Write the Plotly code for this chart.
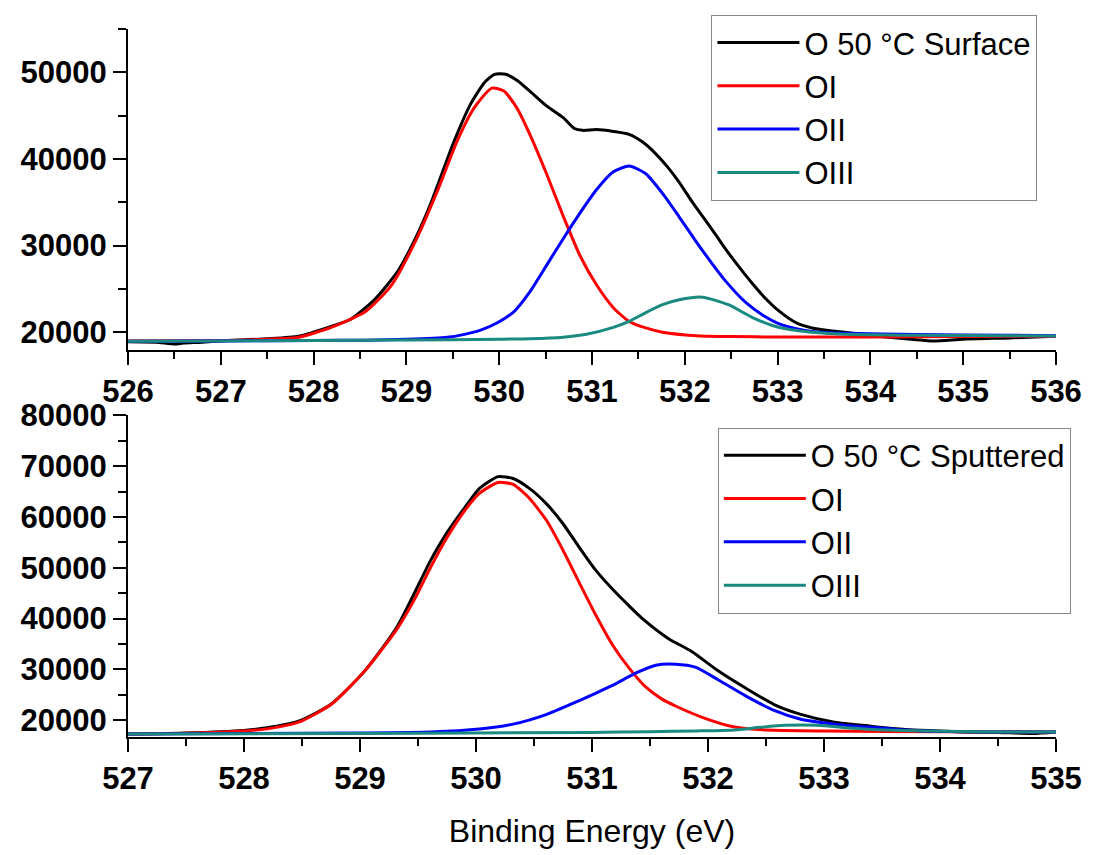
import plotly.graph_objects as go
from plotly.subplots import make_subplots

# ---------------- Top panel: O 50 °C Surface ----------------
top_black_x = [526.0, 526.3, 526.5, 526.6, 526.8, 527.0, 527.5, 527.84, 528.19, 528.4, 528.66,
               528.91, 529.1, 529.26, 529.4, 529.52, 529.69, 529.84, 529.95, 530.07, 530.19,
               530.33, 530.51, 530.69, 530.81, 530.9, 531.05, 531.23, 531.4, 531.55, 531.69,
               531.82, 531.94, 532.07, 532.19, 532.33, 532.44, 532.58, 532.73, 532.87, 533.01,
               533.2, 533.37, 533.55, 533.72, 534.08, 534.44, 534.68, 535.0, 535.5, 536.0]
top_black_y = [18900, 18850, 18650, 18750, 18850, 19000, 19250, 19550, 20680, 21500, 23800,
               27100, 30900, 34800, 38800, 42200, 46300, 48800, 49770, 49770, 49090,
               47830, 46130, 44770, 43520, 43300, 43400, 43180, 42840, 41920, 40560,
               39000, 37300, 35200, 33400, 31300, 29600, 27600, 25600, 23900, 22500,
               21100, 20500, 20200, 20000, 19550, 19200, 18980, 19200, 19350, 19550]

top_oi_x = [526.0, 527.0, 527.5, 527.84, 528.19, 528.56, 528.84, 529.09, 529.34, 529.55, 529.73,
            529.92, 530.05, 530.19, 530.33, 530.51, 530.69, 530.87, 531.05, 531.23, 531.4,
            531.58, 531.76, 532.12, 532.5, 533.0, 534.0, 535.0, 536.0]
top_oi_y = [19000, 19050, 19200, 19430, 20570, 22390, 25450, 30340, 36470, 42150, 45900,
            48180, 47830, 45900, 42840, 38290, 33400, 28860, 25450, 22840, 21250,
            20500, 20000, 19600, 19500, 19450, 19450, 19500, 19550]

top_oii_x = [526.0, 527.0, 528.0, 528.56, 529.0, 529.44, 529.6, 529.8, 529.98, 530.16, 530.33,
             530.51, 530.69, 530.87, 531.05, 531.23, 531.4, 531.58, 531.76, 531.94, 532.12,
             532.33, 532.44, 532.65, 532.85, 533.01, 533.2, 533.37, 533.72, 534.5, 535.5, 536.0]
top_oii_y = [18950, 19000, 19050, 19090, 19200, 19430, 19700, 20250, 21100, 22390, 24660,
             27720, 30800, 33750, 36470, 38520, 39200, 38290, 36020, 33300, 30500,
             27400, 25900, 23500, 21900, 21000, 20400, 20100, 19890, 19750, 19650, 19600]

top_oiii_x = [526.0, 527.0, 528.0, 529.0, 530.0, 530.33, 530.69, 530.94, 531.23, 531.4, 531.58,
              531.76, 531.94, 532.19, 532.47, 532.73, 533.01, 533.37, 533.72, 534.5, 535.5, 536.0]
top_oiii_y = [18950, 19000, 19050, 19100, 19200, 19250, 19430, 19770, 20570, 21250, 22270,
              23180, 23750, 24050, 23180, 21700, 20570, 20000, 19770, 19650, 19600, 19580]

# ---------------- Bottom panel: O 50 °C Sputtered ----------------
bot_black_x = [527.0, 527.5, 528.0, 528.2, 528.47, 528.75, 529.04, 529.32, 529.61, 529.75, 529.9,
               530.03, 530.19, 530.32, 530.46, 530.61, 530.75, 530.89, 531.03, 531.18, 531.32,
               531.44, 531.66, 531.86, 532.09, 532.32, 532.57, 532.8, 533.09, 533.4, 533.7,
               534.0, 534.17, 534.5, 534.8, 535.0]
bot_black_y = [17300, 17500, 18000, 18500, 19800, 23150, 29670, 38400, 51520, 56940, 61770,
               65640, 67960, 67580, 65640, 62540, 58680, 54040, 49590, 45720, 42500,
               39900, 36050, 33540, 29670, 26380, 23090, 21160, 19610, 18840, 18200,
               17900, 17680, 17600, 17400, 17700]

bot_oi_x = [527.0, 527.5, 528.0, 528.2, 528.47, 528.75, 529.04, 529.32, 529.47, 529.61, 529.75,
            529.9, 530.03, 530.19, 530.32, 530.46, 530.61, 530.75, 530.89, 531.03, 531.18,
            531.32, 531.46, 531.6, 531.72, 531.95, 532.23, 532.51, 533.0, 534.0, 535.0]
bot_oi_y = [17300, 17450, 17900, 18300, 19610, 23090, 29670, 37990, 43790, 50170, 55970,
            61190, 64670, 66800, 66410, 63700, 59260, 53460, 47080, 40800, 34700,
            30250, 26600, 24200, 22800, 20580, 18650, 18070, 17880, 17750, 17700]

bot_oii_x = [527.0, 528.0, 529.0, 529.61, 530.03, 530.32, 530.61, 530.89, 531.03, 531.18, 531.38,
             531.55, 531.72, 531.89, 532.09, 532.32, 532.57, 532.8, 533.09, 533.37, 533.6,
             533.88, 534.5, 535.0]
bot_oii_y = [17300, 17400, 17500, 17680, 18260, 19230, 21160, 23870, 25300, 26900, 29300,
             30830, 31020, 30440, 27930, 24840, 21930, 20190, 19230, 18650, 18260,
             17870, 17700, 17700]

bot_oiii_x = [527.0, 529.0, 531.0, 531.5, 531.9, 532.23, 532.45, 532.66, 532.94, 533.23, 533.45,
              533.88, 534.5, 535.0]
bot_oiii_y = [17300, 17400, 17600, 17750, 17900, 18100, 18600, 19000, 19030, 18450, 18150,
              17870, 17700, 17700]

top_names = ["O 50 °C Surface", "OI", "OII", "OIII"]
bot_names = ["O 50 °C Sputtered", "OI", "OII", "OIII"]
colors = ["#000000", "#ff0000", "#0000ff", "#1a8a80"]

FONT = "Liberation Sans, Arial, sans-serif"

fig = make_subplots(rows=2, cols=1, shared_xaxes=False, vertical_spacing=0.09)

top_series = [(top_black_x, top_black_y), (top_oi_x, top_oi_y),
              (top_oii_x, top_oii_y), (top_oiii_x, top_oiii_y)]
bot_series = [(bot_black_x, bot_black_y), (bot_oi_x, bot_oi_y),
              (bot_oii_x, bot_oii_y), (bot_oiii_x, bot_oiii_y)]

for (xs, ys), name, c in zip(top_series, top_names, colors):
    fig.add_trace(go.Scatter(x=xs, y=ys, mode="lines", name=name,
                             line=dict(color=c, width=3, shape="spline", smoothing=0.6),
                             legend="legend"), row=1, col=1)
for (xs, ys), name, c in zip(bot_series, bot_names, colors):
    fig.add_trace(go.Scatter(x=xs, y=ys, mode="lines", name=name,
                             line=dict(color=c, width=3, shape="spline", smoothing=0.6),
                             legend="legend2"), row=2, col=1)

tickfont = dict(family=FONT, size=31, color="black", weight="bold")
common_axis = dict(showline=True, linecolor="black", linewidth=2, ticks="outside",
                   ticklen=13, tickwidth=2, tickcolor="black", showgrid=False,
                   zeroline=False, tickfont=tickfont, mirror=False)

fig.update_xaxes(common_axis)
fig.update_yaxes(common_axis, tickformat="d")

fig.update_layout(
    xaxis=dict(range=[526, 536], dtick=1, tick0=526, domain=[0, 1],
               minor=dict(dtick=0.5, ticks="outside", ticklen=7, tickwidth=2, tickcolor="black")),
    yaxis=dict(range=[18000, 55000], dtick=10000, tick0=0, domain=[0.5472, 1.0],
               minor=dict(dtick=5000, ticks="outside", ticklen=8, tickwidth=2, tickcolor="black")),
    xaxis2=dict(range=[527, 535], dtick=1, tick0=527, domain=[0, 1],
                minor=dict(dtick=0.5, ticks="outside", ticklen=7, tickwidth=2, tickcolor="black"),
                title=dict(text="Binding Energy (eV)", font=dict(family=FONT, size=32, color="black"),
                           standoff=24)),
    yaxis2=dict(range=[16700, 80000], dtick=10000, tick0=0, domain=[0, 0.4542],
                minor=dict(dtick=5000, ticks="outside", ticklen=8, tickwidth=2, tickcolor="black")),
    width=1094, height=855,
    margin=dict(l=128, r=31, t=20, b=115),
    paper_bgcolor="white", plot_bgcolor="white",
    font=dict(family=FONT, color="black"),
    showlegend=True,
    legend=dict(x=0.98, xanchor="right", y=1.02, yanchor="top",
                bordercolor="#888888", borderwidth=1, bgcolor="white", itemwidth=82,
                font=dict(family=FONT, size=31, color="black"), tracegroupgap=0),
    legend2=dict(x=1.016, xanchor="right", y=0.437, yanchor="top",
                 bordercolor="#888888", borderwidth=1, bgcolor="white", itemwidth=82,
                 font=dict(family=FONT, size=31, color="black"), tracegroupgap=0),
)

fig.write_html("out.html")
